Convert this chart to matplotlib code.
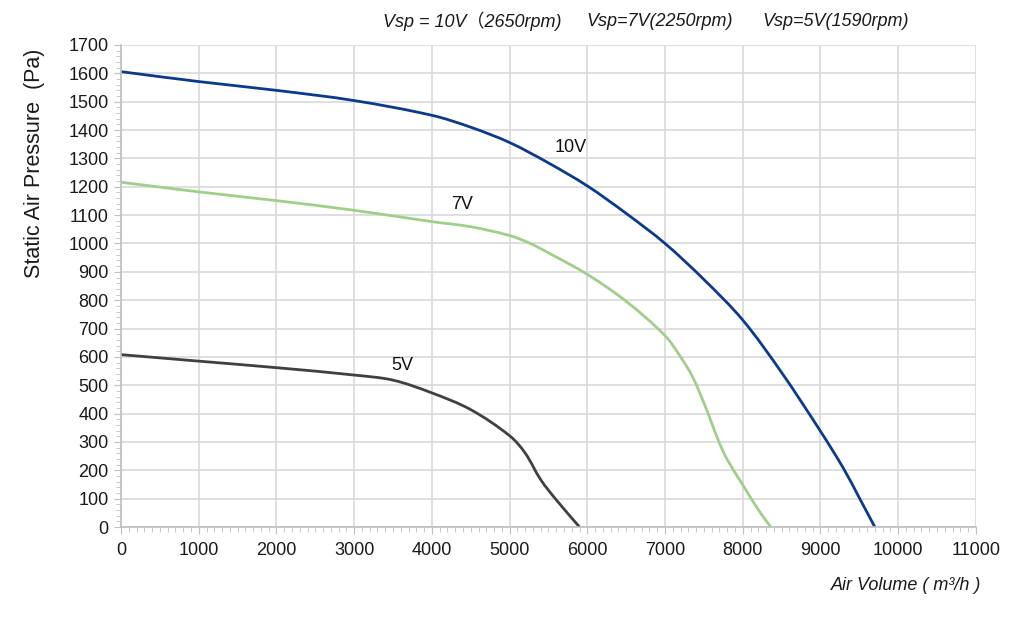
import numpy as np
import matplotlib.pyplot as plt
from matplotlib.path import Path
from matplotlib.patches import PathPatch
from matplotlib.ticker import MultipleLocator

plt.rcParams['font.family'] = ['Liberation Sans', 'Noto Sans CJK SC', 'DejaVu Sans']

# curves
x_10v = [0, 1000, 2000, 3000, 4000, 4500, 5000, 5500, 6000, 6500, 7000, 7500, 8000, 8500, 9000, 9300, 9500, 9700]
y_10v = [1606, 1571, 1540, 1504, 1452, 1410, 1356, 1284, 1203, 1106, 1000, 873, 730, 545, 338, 205, 103, 0]

x_7v = [0, 1000, 2000, 3000, 4000, 4500, 5000, 5250, 5500, 6000, 6500, 7000, 7200, 7350, 7500, 7600, 7700, 7800, 8000, 8200, 8360]
y_7v = [1216, 1182, 1151, 1117, 1077, 1059, 1028, 1002, 967, 891, 796, 675, 600, 532, 438, 367, 296, 238, 149, 61, 0]

x_5v = [0, 1000, 2000, 3000, 3500, 4000, 4500, 5000, 5200, 5400, 5600, 5900]
y_5v = [608, 585, 562, 536, 518, 473, 414, 322, 261, 167, 96, 0]

curve_names = ['10V', '7V', '5V']
curve_label_pos = [(5780, 1340), (4390, 1139), (3620, 568)]
speed_texts = ['Vsp = 10V（2650rpm)', 'Vsp=7V(2250rpm)', 'Vsp=5V(1590rpm)']


def smooth_line(ax, xs, ys, color):
    # smoothed line like the spreadsheet: bezier segments through the points,
    # tangents scaled by chord length (measured roughly in screen units)
    p = np.column_stack([xs, ys]).astype(float)
    s = p / np.array([12.87, 3.53])
    d = np.hypot(*np.diff(s, axis=0).T)
    n = len(p)
    m = np.zeros_like(p)
    m[0] = (p[1] - p[0]) / d[0]
    m[-1] = (p[-1] - p[-2]) / d[-1]
    for i in range(1, n - 1):
        m[i] = (p[i + 1] - p[i - 1]) / (d[i - 1] + d[i])
    verts = [tuple(p[0])]
    codes = [Path.MOVETO]
    for i in range(n - 1):
        verts += [tuple(p[i] + m[i] * d[i] / 3), tuple(p[i + 1] - m[i + 1] * d[i] / 3), tuple(p[i + 1])]
        codes += [Path.CURVE4] * 3
    ax.add_patch(PathPatch(Path(verts, codes), fill=False, edgecolor=color,
                           lw=2.0, capstyle='butt', joinstyle='round'))


fig = plt.figure(figsize=(10.24, 6.24), dpi=100)
ax = fig.add_axes([0.1182, 0.1554, 0.953 - 0.1182, 0.9279 - 0.1554])

smooth_line(ax, x_10v, y_10v, '#0b3a8c')
smooth_line(ax, x_7v, y_7v, '#a0cf8a')
smooth_line(ax, x_5v, y_5v, '#404040')

for name, (tx, ty) in zip(curve_names, curve_label_pos):
    ax.text(tx, ty, name, fontsize=13, ha='center', va='center', color='#111111')

ax.set_xlim(0, 11000)
ax.set_ylim(0, 1700)
ax.xaxis.set_major_locator(MultipleLocator(1000))
ax.xaxis.set_minor_locator(MultipleLocator(100))
ax.yaxis.set_major_locator(MultipleLocator(100))
ax.yaxis.set_minor_locator(MultipleLocator(20))

ax.grid(True, which='major', color='#d9d9d9', lw=1.2)
ax.set_axisbelow(True)
for s in ['top', 'right']:
    ax.spines[s].set_visible(False)
for s in ['left', 'bottom']:
    ax.spines[s].set_color('#bfbfbf')
    ax.spines[s].set_linewidth(1.2)

ax.tick_params(which='major', length=5, color='#bfbfbf', labelsize=13, labelcolor='#1a1a1a')
ax.tick_params(which='minor', length=3.5, color='#bfbfbf')
ax.tick_params(axis='y', pad=4)
ax.tick_params(axis='x', pad=6)

fig.text(35 / 1024, 1 - 163 / 624, 'Static Air Pressure  (Pa)', rotation=90,
         fontsize=15.5, ha='center', va='center', color='#1a1a1a')
fig.text(981 / 1024, 1 - 586 / 624, 'Air Volume ( m³/h )', style='italic',
         fontsize=13, ha='right', va='center', color='#1a1a1a')

for tx, s in zip([383, 586, 762], speed_texts):
    fig.text(tx / 1024, 1 - 21 / 624, s, style='italic', fontsize=13,
             ha='left', va='center', color='#1a1a1a')

fig.savefig('out.png', dpi=100)
